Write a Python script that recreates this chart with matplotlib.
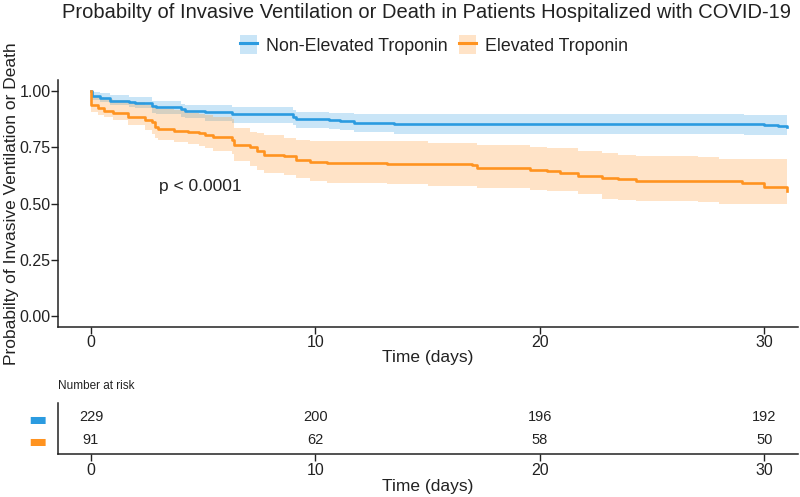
import matplotlib
matplotlib.use("Agg")
import matplotlib.pyplot as plt
from matplotlib.lines import Line2D
from matplotlib.patches import Patch

plt.rcParams['font.family'] = ['Liberation Sans', 'DejaVu Sans']

# ---------------- data ----------------
groups = ["Non-Elevated Troponin", "Elevated Troponin"]
line_colors = ["#2B9BE0", "#FF9320"]

t_non = [0, 0.05, 0.4, 0.85, 1.7, 1.96, 2.7, 2.9, 4.0, 4.2, 5.1, 6.3, 9.0, 9.15,
         10.6, 11.1, 11.7, 13.5, 26.6, 29.1, 30.0, 30.6, 31.0]
s_non = [1.0, 0.978, 0.97, 0.957, 0.953, 0.948, 0.934, 0.928, 0.919, 0.913, 0.906,
         0.897, 0.887, 0.876, 0.872, 0.867, 0.859, 0.854, 0.853, 0.852, 0.85, 0.845, 0.841]
up_non = [1.0, 0.997, 0.99, 0.982, 0.975, 0.975, 0.957, 0.955, 0.943, 0.94, 0.938,
          0.931, 0.916, 0.909, 0.905, 0.903, 0.9, 0.897, 0.897, 0.894, 0.894, 0.894, 0.894]
lo_non = [1.0, 0.963, 0.95, 0.938, 0.931, 0.925, 0.904, 0.9, 0.883, 0.879, 0.867,
          0.857, 0.85, 0.838, 0.832, 0.826, 0.818, 0.81, 0.81, 0.806, 0.806, 0.806, 0.806]

t_el = [0, 0.02, 0.3, 0.6, 1.0, 1.66, 2.4, 2.7, 2.85, 3.0, 3.7, 4.3, 4.8, 5.1, 5.45,
        6.3, 6.35, 7.08, 7.4, 7.7, 8.6, 9.15, 9.75, 10.5, 13.2, 15.0, 16.96, 17.2,
        19.55, 20.3, 20.9, 21.7, 22.75, 23.5, 24.3, 27.05, 28.0, 29.0, 30.0, 31.0]
s_el = [1.0, 0.938, 0.925, 0.91, 0.901, 0.883, 0.872, 0.864, 0.842, 0.832, 0.825,
        0.82, 0.813, 0.806, 0.794, 0.784, 0.761, 0.75, 0.735, 0.717, 0.71, 0.695,
        0.683, 0.68, 0.676, 0.675, 0.673, 0.658, 0.648, 0.643, 0.636, 0.621, 0.614,
        0.607, 0.602, 0.602, 0.598, 0.592, 0.575, 0.555]
up_el = [1.0, 0.98, 0.975, 0.965, 0.96, 0.95, 0.94, 0.935, 0.925, 0.92, 0.915,
         0.905, 0.9, 0.895, 0.885, 0.875, 0.835, 0.82, 0.812, 0.806, 0.79, 0.785,
         0.778, 0.778, 0.778, 0.769, 0.769, 0.761, 0.751, 0.749, 0.747, 0.735, 0.724,
         0.717, 0.71, 0.705, 0.70, 0.698, 0.698, 0.698]
lo_el = [1.0, 0.908, 0.895, 0.886, 0.872, 0.85, 0.828, 0.81, 0.79, 0.785, 0.776,
         0.766, 0.755, 0.747, 0.732, 0.72, 0.688, 0.665, 0.651, 0.636, 0.625, 0.614,
         0.6, 0.592, 0.588, 0.58, 0.58, 0.567, 0.558, 0.557, 0.556, 0.541, 0.519,
         0.515, 0.511, 0.505, 0.5, 0.496, 0.496, 0.496]

risk_times = [0, 10, 20, 30]
risk_non = [229, 200, 196, 192]
risk_el = [91, 62, 58, 50]

title = "Probabilty of Invasive Ventilation or Death in Patients Hospitalized with COVID-19"
ylabel = "Probabilty of Invasive Ventilation or Death"
xlabel = "Time (days)"
pval = "p < 0.0001"

# ---------------- figure ----------------
W, H = 800, 497
fig = plt.figure(figsize=(W / 100, H / 100), dpi=100)
txt = "#222222"

def fr(l, t, r, b):
    return [l / W, 1 - b / H, (r - l) / W, (b - t) / H]

ax = fig.add_axes(fr(58, 80, 798, 327))
series = [(t_non, s_non, up_non, lo_non), (t_el, s_el, up_el, lo_el)]
for (t, s, u, l), c in zip(series, line_colors):
    ax.fill_between(t, l, u, step="post", color=c, alpha=0.25, linewidth=0)
for (t, s, u, l), c in zip(series, line_colors):
    ax.plot(t, s, drawstyle="steps-post", color=c, linewidth=1.9)

ax.set_xlim(-1.47, 31.5)
ax.set_ylim(-0.05, 1.05)
ax.set_xticks([0, 10, 20, 30])
ax.set_yticks([0, 0.25, 0.5, 0.75, 1.0])
ax.set_yticklabels(["0.00", "0.25", "0.50", "0.75", "1.00"])
for sp in ["top", "right"]:
    ax.spines[sp].set_visible(False)
for sp in ["left", "bottom"]:
    ax.spines[sp].set_linewidth(1.1)
    ax.spines[sp].set_color("#222222")
ax.tick_params(labelsize=11.5, colors=txt, length=5, width=1, pad=0.3)
ax.tick_params(axis="x", pad=0.5)
ax.set_xlabel(xlabel, fontsize=12.5, color=txt, labelpad=0)
ax.set_ylabel(ylabel, fontsize=12.5, color=txt)
ax.yaxis.set_label_coords(-39 / 740, 0.5)
ax.text(3.03, 0.577, pval, fontsize=12.5, color=txt, ha="left", va="center")

fig.text(426 / W, 1 - 13 / H, title, fontsize=14.5, color=txt, ha="center", va="center")

handles = [(Patch(facecolor=c, alpha=0.25, edgecolor="none"),
            Line2D([], [], color=c, linewidth=2.2)) for c in line_colors]
fig.legend(handles, groups, loc="center", bbox_to_anchor=(434 / W, 1 - 45 / H),
           ncol=2, frameon=False, fontsize=12.8, handlelength=1.0, handleheight=1.2,
           columnspacing=0.6, handletextpad=0.5, labelcolor=txt)

# ---------------- risk table ----------------
rax = fig.add_axes(fr(58, 403, 798, 454))
rax.set_xlim(-1.47, 31.5)
rax.set_ylim(-0.61, 1.61)
for tt, a, b in zip(risk_times, risk_non, risk_el):
    rax.text(tt, 1, str(a), ha="center", va="center", fontsize=10.5, color=txt)
    rax.text(tt, 0, str(b), ha="center", va="center", fontsize=10.5, color=txt)
rax.set_xticks(risk_times)
rax.set_yticks([1, 0])
rax.set_yticklabels(["\u25ac", "\u25ac"], family="DejaVu Sans", fontsize=14)
for lab, c in zip(rax.get_yticklabels(), line_colors):
    lab.set_color(c)
rax.tick_params(axis="y", length=0, pad=8)
rax.tick_params(axis="x", labelsize=11.5, colors=txt, length=5, width=1, pad=1.5)
for sp in ["top", "right"]:
    rax.spines[sp].set_visible(False)
for sp in ["left", "bottom"]:
    rax.spines[sp].set_linewidth(1.1)
    rax.spines[sp].set_color("#222222")
rax.set_xlabel(xlabel, fontsize=12.5, color=txt, labelpad=1)
fig.text(58 / W, 1 - 386 / H, "Number at risk", fontsize=8.5, color=txt,
         ha="left", va="center")

fig.savefig("out.png", dpi=100)
